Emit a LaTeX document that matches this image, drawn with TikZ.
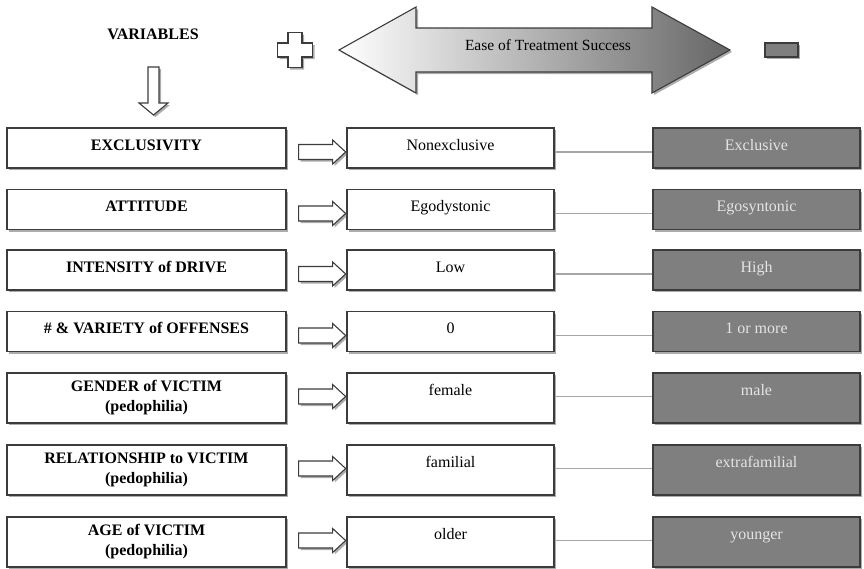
\documentclass[tikz,border=0pt]{standalone}
\usepackage{fontspec}
\setmainfont{Liberation Serif}
\usetikzlibrary{shadows}

\definecolor{edge}{HTML}{3C3C3C}
\definecolor{darkfill}{HTML}{7F7F7F}
\definecolor{darktext}{HTML}{E4E4E4}
\definecolor{linkgray}{HTML}{A6A6A6}

\tikzset{
  boxshadow/.style={drop shadow={shadow xshift=2pt,shadow yshift=-2pt,opacity=0.5,fill=black!65}},
  box/.style={draw=edge,line width=1.3pt,fill=white,boxshadow,inner sep=0pt,
    font=\fontsize{16}{17}\selectfont},
  varbox/.style={box,minimum width=279pt,align=center,
    font=\bfseries\fontsize{16}{20}\selectfont},
  valbox/.style={box,minimum width=207pt},
  darkbox/.style={valbox,fill=darkfill,text=darktext},
  shortrow/.style={minimum height=40pt,text height=10pt,text depth=6pt},
  tallrow/.style={minimum height=50pt},
  tallval/.style={minimum height=50pt,text height=8pt,text depth=13pt},
  link/.style={draw=linkgray,line width=1.4pt},
  hollow/.style={draw=edge,line width=1.1pt,fill=white,boxshadow},
  pics/blockarrow/.style={code={
    \path[hollow] (0,-7.5) -- (34,-7.5) -- (34,-12) -- (47,0) -- (34,12)
      -- (34,7.5) -- (0,7.5) -- cycle;}}
}

\begin{document}
\begin{tikzpicture}[x=1pt,y=-1pt]
\useasboundingbox (0,0) rectangle (864,568);

% header
\node[font=\bfseries\fontsize{16}{17}\selectfont] (vars) at (153,34) {VARIABLES};
\path[hollow] (148,67) -- (159,67) -- (159,103) -- (168,103) -- (153.5,115)
  -- (139,103) -- (148,103) -- cycle;

% plus sign
\path[hollow] (288,32.5) -- (302,32.5) -- (302,43) -- (312.5,43) -- (312.5,57)
  -- (302,57) -- (302,67.5) -- (288,67.5) -- (288,57) -- (277.5,57)
  -- (277.5,43) -- (288,43) -- cycle;

% double-headed gradient arrow
\path[draw=edge,line width=1.1pt,left color=white,right color=black!60,boxshadow]
  (339,50) -- (416,7) -- (416,28) -- (652,28) -- (652,7) -- (730,50)
  -- (652,93) -- (652,72) -- (416,72) -- (416,93) -- cycle;
\node[font=\fontsize{15.5}{16}\selectfont] (ease) at (548,45) {Ease of Treatment Success};

% minus sign
\path[draw=edge,line width=1.1pt,fill=darkfill,boxshadow] (765,43) rectangle (798,57);

% rows: variable, favourable value, unfavourable value
\node[varbox,shortrow] (v1) at (146.5,148) {EXCLUSIVITY};
\node[valbox,shortrow] (m1) at (450.5,148) {Nonexclusive};
\node[darkbox,shortrow] (d1) at (756.5,148) {Exclusive};

\node[varbox,shortrow] (v2) at (146.5,209.5) {ATTITUDE};
\node[valbox,shortrow] (m2) at (450.5,209.5) {Egodystonic};
\node[darkbox,shortrow] (d2) at (756.5,209.5) {Egosyntonic};

\node[varbox,shortrow] (v3) at (146.5,270) {INTENSITY of DRIVE};
\node[valbox,shortrow] (m3) at (450.5,270) {Low};
\node[darkbox,shortrow] (d3) at (756.5,270) {High};

\node[varbox,shortrow] (v4) at (146.5,331.5) {\# \& VARIETY of OFFENSES};
\node[valbox,shortrow] (m4) at (450.5,331.5) {0};
\node[darkbox,shortrow] (d4) at (756.5,331.5) {1 or more};

\node[varbox,tallrow] (v5) at (146.5,398) {GENDER of VICTIM\\(pedophilia)};
\node[valbox,tallval] (m5) at (450.5,398) {female};
\node[darkbox,tallval] (d5) at (756.5,398) {male};

\node[varbox,tallrow] (v6) at (146.5,470) {RELATIONSHIP to VICTIM\\(pedophilia)};
\node[valbox,tallval] (m6) at (450.5,470) {familial};
\node[darkbox,tallval] (d6) at (756.5,470) {extrafamilial};

\node[varbox,tallrow] (v7) at (146.5,542) {AGE of VICTIM\\(pedophilia)};
\node[valbox,tallval] (m7) at (450.5,542) {older};
\node[darkbox,tallval] (d7) at (756.5,542) {younger};

% block arrows and connecting lines
\foreach \r in {1,2,3,4}{
  \pic at ([xshift=12pt,yshift=-4pt]v\r.east) {blockarrow};
  \draw[link] ([yshift=-4pt]m\r.east) -- ([yshift=-4pt]d\r.west);
}
\foreach \r in {5,6,7}{
  \pic at ([xshift=12pt,yshift=1.5pt]v\r.east) {blockarrow};
  \draw[link] ([yshift=1.5pt]m\r.east) -- ([yshift=1.5pt]d\r.west);
}
\end{tikzpicture}
\end{document}
